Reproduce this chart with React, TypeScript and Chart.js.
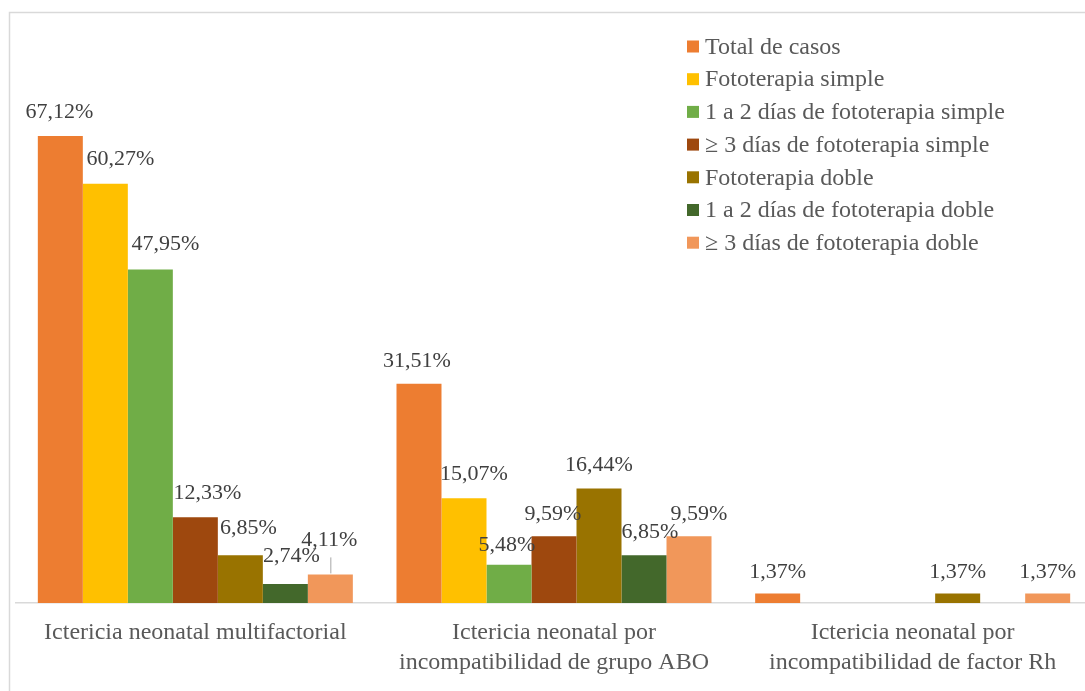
import React, { useEffect, useRef } from "react";
import { Chart, registerables } from "chart.js";

Chart.register(...registerables);

const categories: string[][] = [
  ["Ictericia neonatal multifactorial"],
  ["Ictericia neonatal por", "incompatibilidad de grupo ABO"],
  ["Ictericia neonatal por", "incompatibilidad de factor Rh"],
];

const seriesNames = [
  "Total de casos",
  "Fototerapia simple",
  "1 a 2 días de fototerapia simple",
  "≥ 3 días de fototerapia simple",
  "Fototerapia doble",
  "1 a 2 días de fototerapia doble",
  "≥ 3 días de fototerapia doble",
];

const totalCasos = [67.12, 31.51, 1.37];
const fototerapiaSimple = [60.27, 15.07, null];
const simple1a2 = [47.95, 5.48, null];
const simple3mas = [12.33, 9.59, null];
const fototerapiaDoble = [6.85, 16.44, 1.37];
const doble1a2 = [2.74, 6.85, null];
const doble3mas = [4.11, 9.59, 1.37];

const seriesValues = [
  totalCasos,
  fototerapiaSimple,
  simple1a2,
  simple3mas,
  fototerapiaDoble,
  doble1a2,
  doble3mas,
];

const seriesColors = [
  "#ED7D31",
  "#FFC000",
  "#70AD47",
  "#9E480E",
  "#997300",
  "#43682B",
  "#F1975A",
];

// label nudges (style only), per series, per category
const labelShiftX = [
  [-1, -2, 0],
  [15, 10, 0],
  [15, -2, 0],
  [12, -1, 0],
  [8, 0, 0],
  [6, 6, 0],
  [-1, 10, 0],
];
const labelShiftY = [
  [-24, -23, -21],
  [-24, -24, -21],
  [-25, -20, -21],
  [-24, -22, -21],
  [-27, -23, -21],
  [-28, -23, -21],
  [-34, -22, -21],
];

const FONT = "'Liberation Serif', 'Times New Roman', serif";

const fmt = (v: number) => v.toFixed(2).replace(".", ",") + "%";

const framePlugin = {
  id: "frame",
  beforeDraw(chart: any) {
    const ctx = chart.ctx;
    ctx.save();
    ctx.fillStyle = "#ffffff";
    ctx.fillRect(0, 0, chart.width, chart.height);
    ctx.strokeStyle = "#d9d9d9";
    ctx.lineWidth = 1.5;
    ctx.strokeRect(9.5, 12.5, chart.width + 50, chart.height + 50);
    ctx.restore();
  },
};

const labelPlugin = {
  id: "barLabels",
  afterDatasetsDraw(chart: any) {
    const ctx = chart.ctx;
    ctx.save();
    ctx.font = `22px ${FONT}`;
    ctx.fillStyle = "#404040";
    ctx.textAlign = "center";
    ctx.textBaseline = "middle";
    chart.data.datasets.forEach((ds: any, si: number) => {
      const meta = chart.getDatasetMeta(si);
      meta.data.forEach((bar: any, ci: number) => {
        const v = ds.data[ci];
        if (v === null || v === undefined) return;
        const x = bar.x + labelShiftX[si][ci];
        const y = bar.y + labelShiftY[si][ci];
        if (labelShiftY[si][ci] < -30) {
          ctx.save();
          ctx.strokeStyle = "#a6a6a6";
          ctx.lineWidth = 1;
          ctx.beginPath();
          ctx.moveTo(bar.x + 0.5, y + 17);
          ctx.lineTo(bar.x + 0.5, bar.y - 1);
          ctx.stroke();
          ctx.restore();
        }
        ctx.fillText(fmt(v), x, y);
      });
    });
    ctx.restore();
  },
};

const legendPlugin = {
  id: "customLegend",
  afterDraw(chart: any) {
    const ctx = chart.ctx;
    ctx.save();
    ctx.font = `24px ${FONT}`;
    ctx.textAlign = "left";
    ctx.textBaseline = "middle";
    const x0 = 687;
    const y0 = 46.5;
    const step = 32.7;
    chart.data.datasets.forEach((ds: any, i: number) => {
      const y = y0 + i * step;
      ctx.fillStyle = ds.backgroundColor;
      ctx.fillRect(x0, y - 6, 12, 12);
      ctx.fillStyle = "#595959";
      ctx.fillText(ds.label, x0 + 18, y + 1);
    });
    ctx.restore();
  },
};

export default function App() {
  const canvasRef = useRef<HTMLCanvasElement | null>(null);

  useEffect(() => {
    if (!canvasRef.current) return;
    const chart = new Chart(canvasRef.current, {
      type: "bar",
      data: {
        labels: categories,
        datasets: seriesNames.map((name, i) => ({
          label: name,
          data: seriesValues[i],
          backgroundColor: seriesColors[i],
          borderWidth: 0,
          categoryPercentage: 0.8783,
          barPercentage: 1,
        })),
      },
      options: {
        animation: false,
        responsive: false,
        devicePixelRatio: 1,
        layout: { padding: { left: 16, right: 8, top: 46.4, bottom: 0 } },
        plugins: {
          legend: { display: false },
          tooltip: { enabled: false },
        },
        scales: {
          x: {
            grid: { display: false, drawTicks: false },
            border: { display: true, color: "#d9d9d9", width: 1.5 },
            ticks: {
              color: "#595959",
              font: { family: FONT, size: 24, lineHeight: 1.25 },
              padding: 15,
              maxRotation: 0,
              minRotation: 0,
              autoSkip: false,
            },
            afterFit: (scale: any) => {
              scale.height = 88;
            },
          },
          y: {
            display: false,
            min: 0,
            max: 80,
          },
        },
      },
      plugins: [framePlugin, labelPlugin, legendPlugin],
    });
    return () => chart.destroy();
  }, []);

  return (
    <div
      style={{
        position: "absolute",
        left: 0,
        top: 0,
        width: 1085,
        height: 691,
        overflow: "hidden",
        background: "#fff",
      }}
    >
      <canvas
        ref={canvasRef}
        width={1100}
        height={691}
        style={{ display: "block", width: 1100, height: 691 }}
      />
    </div>
  );
}
